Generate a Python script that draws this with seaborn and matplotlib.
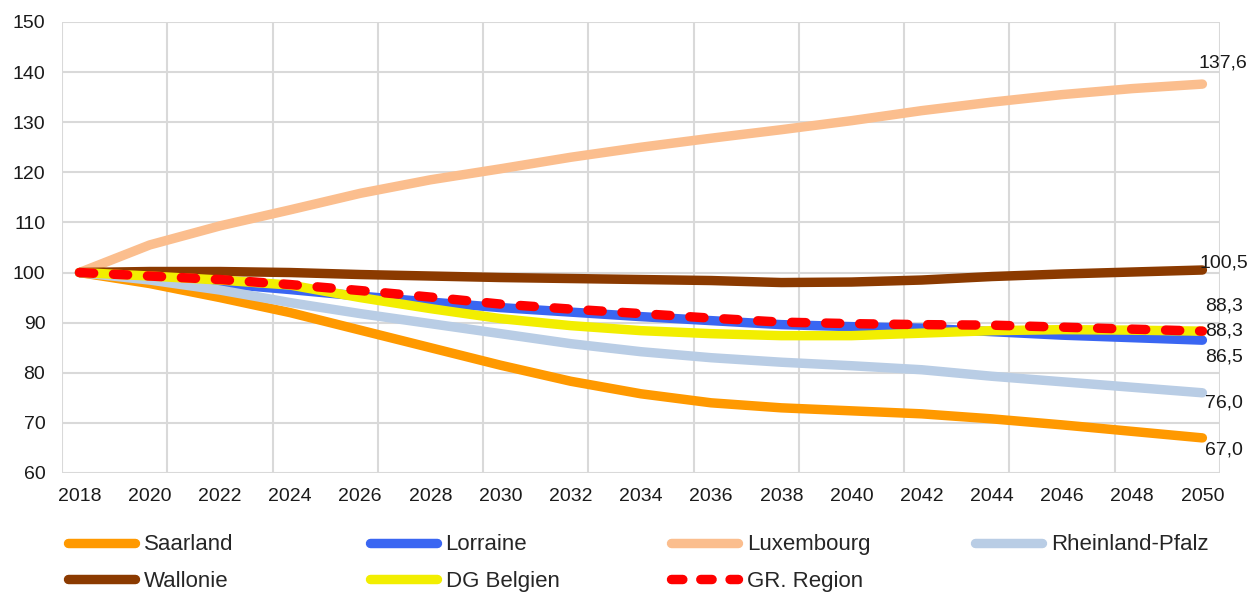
import numpy as np
import seaborn as sns
import matplotlib.pyplot as plt
from matplotlib.lines import Line2D

years = list(range(2018, 2051, 2))

saarland = [100, 97.8, 95.0, 92.0, 88.5, 85.0, 81.5, 78.3, 75.8, 74.0, 73.0, 72.4, 71.8, 70.8, 69.6, 68.3, 67.0]
lorraine = [100, 98.9, 97.8, 96.6, 95.3, 94.1, 93.0, 92.1, 91.2, 90.4, 89.6, 89.2, 88.9, 88.2, 87.5, 87.0, 86.5]
luxembourg = [100, 105.5, 109.3, 112.5, 115.8, 118.5, 120.7, 123.0, 125.0, 126.8, 128.5, 130.3, 132.3, 134.0, 135.5, 136.7, 137.6]
rheinland_pfalz = [100, 98.5, 96.5, 94.0, 91.8, 89.8, 87.8, 85.8, 84.2, 83.0, 82.1, 81.4, 80.6, 79.3, 78.2, 77.1, 76.0]
wallonie = [100, 100.2, 100.2, 100.0, 99.6, 99.3, 99.0, 98.8, 98.6, 98.4, 98.0, 98.1, 98.5, 99.2, 99.7, 100.1, 100.5]
dg_belgien = [100, 99.3, 98.5, 97.5, 95.0, 92.8, 90.8, 89.4, 88.4, 87.8, 87.4, 87.4, 87.9, 88.4, 88.6, 88.5, 88.3]
gr_region = [100, 99.3, 98.6, 97.6, 96.4, 95.1, 93.7, 92.7, 91.8, 90.9, 90.1, 89.8, 89.6, 89.5, 89.1, 88.7, 88.3]

names = ["Saarland", "Lorraine", "Luxembourg", "Rheinland-Pfalz", "Wallonie", "DG Belgien", "GR. Region"]
series = [saarland, lorraine, luxembourg, rheinland_pfalz, wallonie, dg_belgien, gr_region]
colors = ["#FF9900", "#3A66F2", "#FBBE8E", "#B9CDE5", "#8B3A00", "#F2EE00", "#FF0000"]
# offsets (points) of the end labels
label_off = [(2, -9), (2, -12), (-3, 15), (2, -7), (-2, 5), (2, 0), (2, 18)]

FS = 14
sns.set_theme(style="white")
plt.rcParams['font.family'] = ['Liberation Sans', 'DejaVu Sans']

fig, ax = plt.subplots(figsize=(12.52, 5.93), dpi=100)
fig.subplots_adjust(left=0.0495, right=0.9744, top=0.963, bottom=0.2024)

handles = []
for name, vals, c in zip(names, series, colors):
    dashed = name == "GR. Region"
    sns.lineplot(x=years, y=vals, ax=ax, color=c, lw=6.8, legend=False)
    ln = ax.lines[-1]
    ln.set_solid_capstyle("round")
    if dashed:
        ln.set_dashes((1.5, 2.1))
        ln.set_dash_capstyle("round")
    handles.append(Line2D([], [], color=c, lw=6.8, solid_capstyle="round",
                          dash_capstyle="round",
                          dashes=(1.2, 1.9) if dashed else (None, None)))

for vals, off in zip(series, label_off):
    ax.annotate(f"{vals[-1]:.1f}".replace(".", ","), (years[-1], vals[-1]),
                xytext=off, textcoords="offset points", ha="left", va="center",
                fontsize=FS, color="#1a1a1a", annotation_clip=False)

ax.set_xlim(2017.5, 2050.5)
ax.set_ylim(60, 150)
ax.set_yticks(range(60, 151, 10))
ax.set_xticks(years)
ax.set_xticks(np.arange(2017.5, 2051, 3), minor=True)
ax.tick_params(axis="x", which="major", length=0, labelsize=FS, pad=11, labelcolor="#1a1a1a")
ax.tick_params(axis="x", which="minor", length=5, color="#d9d9d9", width=1.5)
ax.tick_params(axis="y", length=6, color="#d9d9d9", width=1.5, labelsize=FS,
               labelcolor="#1a1a1a", pad=6)
ax.grid(True, axis="y", which="major", color="#d9d9d9", lw=1.5)
ax.grid(True, axis="x", which="minor", color="#d9d9d9", lw=1.5)
ax.grid(False, axis="x", which="major")
ax.set_axisbelow(True)
for s in ax.spines.values():
    s.set_visible(False)

# legend: four columns, two rows
col_x = [0.0545, 0.2955, 0.536, 0.779]
for i, x in enumerate(col_x):
    idx = [j for j in (i, i + 4) if j < len(names)]
    fig.legend([handles[j] for j in idx], [names[j] for j in idx],
               loc="upper left", bbox_to_anchor=(x, 0.099), frameon=False,
               fontsize=16, handlelength=3.0, handletextpad=0.4,
               labelspacing=0.7, borderaxespad=0, borderpad=0)

fig.savefig("out.png", dpi=100)
